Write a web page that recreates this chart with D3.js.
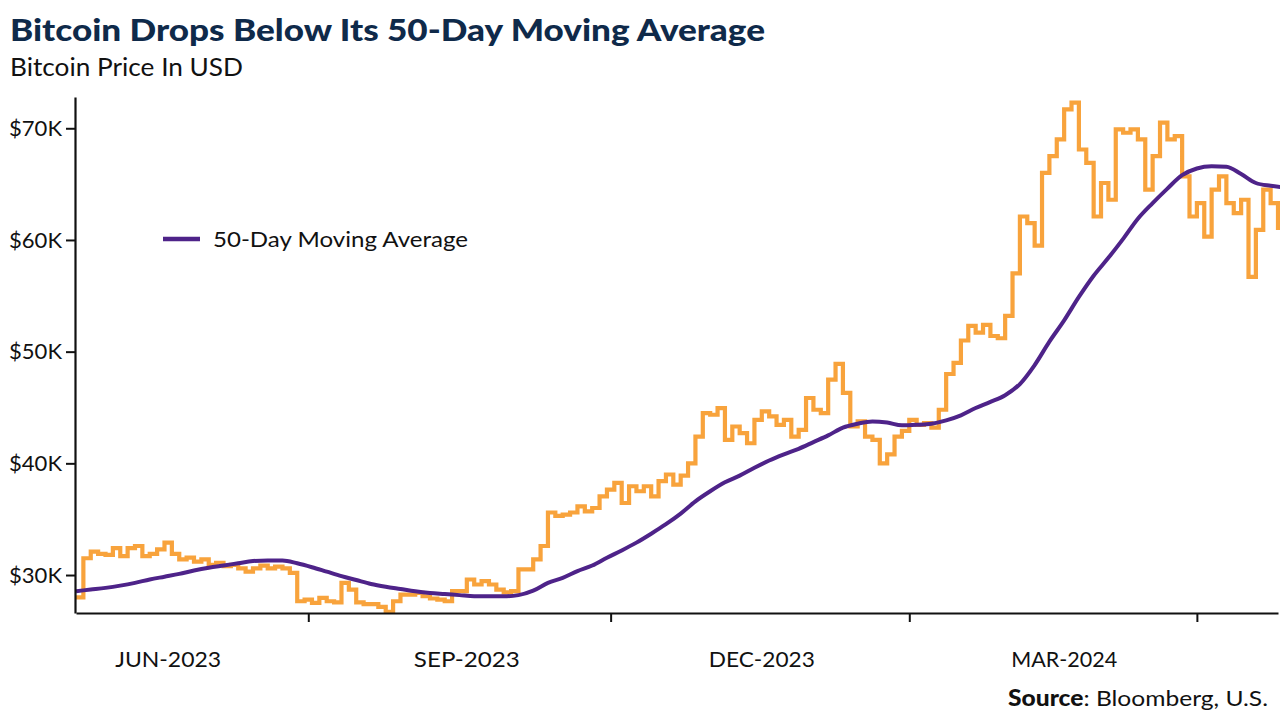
<!DOCTYPE html>
<html><head><meta charset="utf-8">
<script src="https://cdn.jsdelivr.net/npm/d3@7"></script>
<style>
html,body{margin:0;padding:0;background:#ffffff;}
svg{display:block;}
</style></head><body>
<svg id="chart" width="1280" height="719"></svg>
<script>
// ---------- data ----------
const titleText = "Bitcoin Drops Below Its 50-Day Moving Average";
const subtitleText = "Bitcoin Price In USD";
const legendLabel = "50-Day Moving Average";
const startDate = "2023-06-19";
const endDate = "2024-05-10";
const priceStepDays = 2;           // one price value every 2 days (USD thousands)
const price = [28.0,31.5,32.1,31.9,31.8,32.4,31.7,32.4,32.6,31.7,31.9,32.3,32.9,31.9,31.4,31.55,31.2,31.4,30.9,31.1,
  30.8,30.9,30.6,30.3,30.6,30.85,30.6,30.75,30.6,30.2,27.65,27.8,27.5,27.95,27.65,27.55,29.3,28.7,27.55,27.4,
  27.4,27.15,26.7,27.65,28.25,28.25,28.4,28.1,27.9,27.8,27.65,28.55,28.55,29.6,29.15,29.45,29.15,28.7,28.45,28.55,
  30.5,30.5,31.4,32.6,35.6,35.3,35.4,35.6,36.15,35.7,36.0,37.05,37.65,38.25,36.45,37.95,37.5,37.95,37.05,38.4,
  39.0,38.1,38.9,40.0,42.4,44.5,44.35,44.95,42.1,43.3,42.7,41.8,43.9,44.65,44.2,43.45,43.9,42.4,43.0,45.85,
  44.8,44.5,47.5,48.9,46.3,43.3,43.75,42.4,42.1,40.0,40.8,42.4,42.9,43.9,43.45,43.6,43.2,44.8,48.0,49.0,
  51.0,52.3,51.7,52.4,51.4,51.2,53.2,57.0,62.1,61.5,59.5,66.0,67.5,69.0,71.7,72.3,68.1,66.9,62.1,65.1,
  63.6,69.9,69.6,69.9,69.0,64.5,67.5,70.5,69.0,69.3,65.7,62.1,63.3,60.3,64.5,65.7,63.3,62.4,63.6,56.7,
  60.9,64.5,63.3,60.9];
const maStepDays = 4;              // one moving-average value every 4 days (USD thousands)
const movingAvg = [28.55,28.7,28.85,29.05,29.3,29.6,29.85,30.1,30.4,30.65,30.85,31.05,31.25,31.3,31.3,31.05,30.7,30.3,29.9,29.55,
  29.2,28.95,28.75,28.55,28.4,28.3,28.2,28.1,28.1,28.1,28.2,28.6,29.3,29.75,30.35,30.85,31.55,32.2,32.9,33.7,
  34.55,35.5,36.6,37.5,38.3,38.9,39.6,40.25,40.8,41.3,41.9,42.5,43.2,43.55,43.75,43.65,43.4,43.45,43.55,43.85,
  44.3,44.95,45.5,46.1,47.1,48.8,50.9,52.8,54.9,56.8,58.4,60.1,61.9,63.3,64.6,65.8,66.4,66.6,66.55,65.9,
  65.1,64.85,64.7];
const yDomain = [26.6, 72.8];
const yTicks = [30, 40, 50, 60, 70];
const tickDates = ["2023-08-21","2023-11-11","2024-01-31","2024-04-18"];
const labelDates = ["2023-07-14","2023-10-03","2023-12-22","2024-03-13"];
const xLabels = ["JUN-2023","SEP-2023","DEC-2023","MAR-2024"];
const sourceBold = "Source";
const sourceRest = ": Bloomberg, U.S.";

// ---------- drawing ----------
const parse = d3.utcParse("%Y-%m-%d");
const t0 = parse(startDate);
const priceData = price.map((v, i) => ({d: d3.utcDay.offset(t0, i * priceStepDays), v}));
const maData = movingAvg.map((v, i) => ({d: d3.utcDay.offset(t0, i * maStepDays), v}));

const svg = d3.select("#chart");
const FONT = "Lato, 'Open Sans', sans-serif";
const ORANGE = "#F8A33C", PURPLE = "#4E2389", NAVY = "#0F2A4A";

const x = d3.scaleUtc().domain([t0, parse(endDate)]).range([76, 1278]);
const y = d3.scaleLinear().domain(yDomain).range([613, 97]);

svg.append("defs").append("clipPath").attr("id", "clip")
  .append("rect").attr("x", 76).attr("y", 90).attr("width", 1204).attr("height", 540);

// title & subtitle
svg.append("text").attr("x", 10).attr("y", 41)
  .attr("font-family", FONT).attr("font-weight", 900).attr("font-size", 31)
  .attr("fill", NAVY).attr("textLength", 755).attr("lengthAdjust", "spacingAndGlyphs")
  .text(titleText);
svg.append("text").attr("x", 10).attr("y", 76)
  .attr("font-family", FONT).attr("font-size", 25).attr("fill", "#111")
  .attr("textLength", 233).attr("lengthAdjust", "spacingAndGlyphs")
  .text(subtitleText);

// lines
const g = svg.append("g").attr("clip-path", "url(#clip)");
g.append("path").datum(priceData)
  .attr("fill", "none").attr("stroke", ORANGE).attr("stroke-width", 4.2)
  .attr("stroke-linejoin", "miter").attr("stroke-linecap", "butt")
  .attr("d", d3.line().x(d => x(d.d)).y(d => y(d.v)).curve(d3.curveStepAfter));
g.append("path").datum(maData)
  .attr("fill", "none").attr("stroke", PURPLE).attr("stroke-width", 4)
  .attr("stroke-linejoin", "round")
  .attr("d", d3.line().x(d => x(d.d)).y(d => y(d.v)).curve(d3.curveMonotoneX));

// y axis
const yAxis = svg.append("g").attr("transform", "translate(75,0)")
  .call(d3.axisLeft(y).tickValues(yTicks).tickSize(9).tickSizeOuter(0).tickPadding(4)
    .tickFormat(d => "$" + d + "K"));
yAxis.select(".domain").attr("stroke", "#111").attr("stroke-width", 2.2);
yAxis.selectAll(".tick line").attr("stroke", "#111").attr("stroke-width", 2);
yAxis.selectAll(".tick text").attr("font-family", FONT).attr("font-size", 22).attr("fill", "#111")
  .attr("textLength", 53).attr("lengthAdjust", "spacingAndGlyphs");

// x axis
const xAxis = svg.append("g").attr("transform", "translate(0,613)")
  .call(d3.axisBottom(x).tickValues(tickDates.map(parse)).tickSize(9).tickSizeOuter(0).tickFormat(""));
xAxis.select(".domain").attr("stroke", "#111").attr("stroke-width", 2.2);
xAxis.selectAll(".tick line").attr("stroke", "#111").attr("stroke-width", 2);
svg.append("g").selectAll("text").data(xLabels).join("text")
  .attr("x", (d, i) => x(parse(labelDates[i]))).attr("y", 667)
  .attr("text-anchor", "middle").attr("font-family", FONT).attr("font-size", 22).attr("fill", "#111")
  .attr("textLength", 106).attr("lengthAdjust", "spacingAndGlyphs")
  .text(d => d);

// legend
svg.append("line").attr("x1", 163).attr("x2", 200).attr("y1", 239).attr("y2", 239)
  .attr("stroke", PURPLE).attr("stroke-width", 4.5);
svg.append("text").attr("x", 213).attr("y", 247)
  .attr("font-family", FONT).attr("font-size", 21).attr("fill", "#111")
  .attr("textLength", 255).attr("lengthAdjust", "spacingAndGlyphs")
  .text(legendLabel);

// source
const src = svg.append("text").attr("x", 1008).attr("y", 706)
  .attr("font-family", FONT).attr("font-size", 22).attr("fill", "#111")
  .attr("textLength", 260).attr("lengthAdjust", "spacingAndGlyphs");
src.append("tspan").attr("font-weight", 900).text(sourceBold);
src.append("tspan").text(sourceRest);
</script>
</body></html>
